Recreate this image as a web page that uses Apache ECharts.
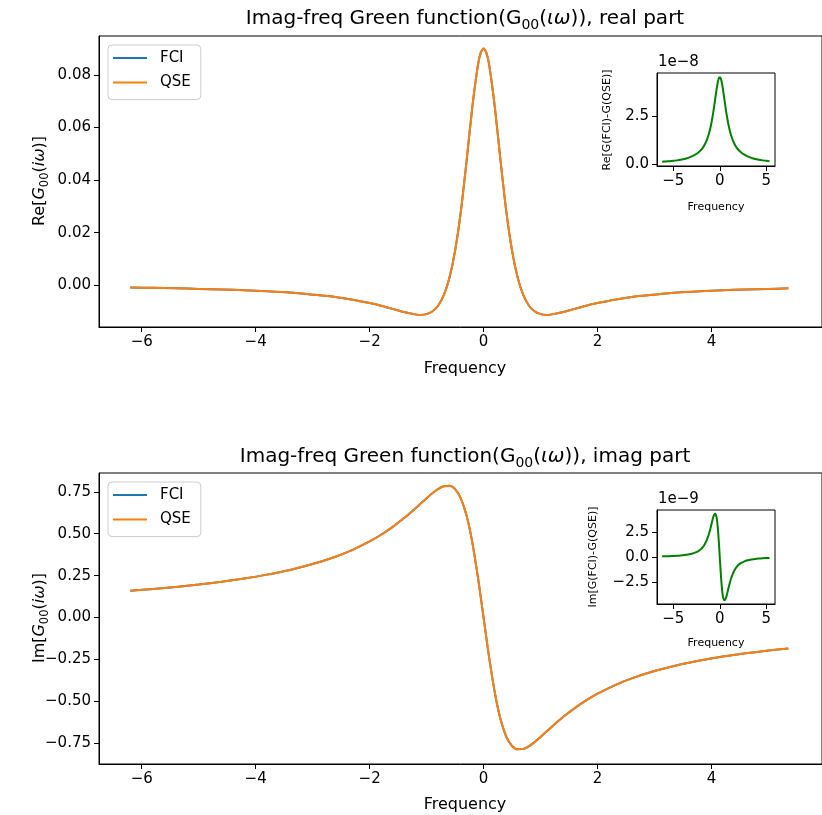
<!DOCTYPE html>
<html>
<head>
<meta charset="utf-8">
<script src="https://cdn.jsdelivr.net/npm/echarts@6.0.0/dist/echarts.min.js"></script>
<style>
  html, body { margin: 0; padding: 0; background: #fff; }
  #greenfn { width: 822px; height: 815px; }
</style>
</head>
<body>
<div id="greenfn"></div>
<script>
// Matsubara frequencies (x axis of every panel)
const freq = [-6.2, -5.8, -5.4, -5.0, -4.6, -4.2, -3.8, -3.4, -3.0, -2.6, -2.3, -2.0, -1.8, -1.6, -1.4, -1.2, -1.1, -1.0,
  -0.9, -0.8, -0.7, -0.6, -0.5, -0.4, -0.3, -0.2, -0.1, -0.05, 0, 0.05, 0.1, 0.2, 0.3, 0.4, 0.5, 0.6, 0.7, 0.8, 0.9,
  1.0, 1.1, 1.2, 1.4, 1.6, 1.8, 2.0, 2.3, 2.6, 3.0, 3.4, 3.8, 4.2, 4.6, 5.0, 5.35];

// Re[G00(iw)]
const reFCI = [-0.0009, -0.0010, -0.0012, -0.0014, -0.0016, -0.0019, -0.0023, -0.0028, -0.0036, -0.0045, -0.0055, -0.0068,
  -0.0078, -0.0090, -0.0102, -0.0111, -0.0113, -0.0110, -0.0100, -0.0079, -0.0039, 0.0027, 0.0131, 0.0279, 0.0469,
  0.0673, 0.0836, 0.0884, 0.0900, 0.0884, 0.0836, 0.0673, 0.0469, 0.0279, 0.0131, 0.0027, -0.0039, -0.0079, -0.0100,
  -0.0110, -0.0113, -0.0111, -0.0102, -0.0090, -0.0078, -0.0068, -0.0055, -0.0045, -0.0036, -0.0028, -0.0023, -0.0019,
  -0.0016, -0.0014, -0.0012];
const reQSE = reFCI.slice();

// Im[G00(iw)]
const imFCI = [0.1596, 0.1704, 0.1826, 0.1968, 0.2133, 0.2327, 0.2560, 0.2841, 0.3190, 0.3628, 0.4038, 0.4539, 0.4937,
  0.5395, 0.5918, 0.6503, 0.6811, 0.7118, 0.7409, 0.7660, 0.7830, 0.7857, 0.7655, 0.7109, 0.6096, 0.4529, 0.2432,
  0.1239, 0, -0.1239, -0.2432, -0.4529, -0.6096, -0.7109, -0.7655, -0.7857, -0.7830, -0.7660, -0.7409, -0.7118,
  -0.6811, -0.6503, -0.5918, -0.5395, -0.4937, -0.4539, -0.4038, -0.3628, -0.3190, -0.2841, -0.2560, -0.2327,
  -0.2133, -0.1968, -0.1843];
const imQSE = imFCI.slice();

// Re[G(FCI)-G(QSE)] in units of 1e-8
const reDiff = [0.13, 0.145, 0.158, 0.175, 0.20, 0.23, 0.27, 0.33, 0.41, 0.51, 0.61, 0.75, 0.87, 1.03, 1.24, 1.52, 1.70,
  1.90, 2.13, 2.39, 2.68, 3.00, 3.34, 3.68, 4.00, 4.26, 4.44, 4.48, 4.50, 4.48, 4.44, 4.26, 4.00, 3.68, 3.34, 3.00,
  2.68, 2.39, 2.13, 1.90, 1.70, 1.52, 1.24, 1.03, 0.87, 0.75, 0.61, 0.51, 0.41, 0.33, 0.27, 0.23, 0.20, 0.175, 0.16];

// Im[G(FCI)-G(QSE)] in units of 1e-9
const imDiff = [0.065, 0.075, 0.088, 0.10, 0.12, 0.15, 0.19, 0.25, 0.33, 0.46, 0.60, 0.80, 1.01, 1.30, 1.69, 2.22, 2.54,
  2.89, 3.27, 3.66, 4.02, 4.25, 4.35, 4.20, 3.73, 2.81, 1.52, 0.77, 0, -0.77, -1.52, -2.81, -3.73, -4.20, -4.35, -4.25,
  -4.02, -3.66, -3.27, -2.89, -2.54, -2.22, -1.69, -1.30, -1.01, -0.80, -0.60, -0.46, -0.33, -0.25, -0.19, -0.15,
  -0.12, -0.10, -0.09];

const freqTicks = [-6, -4, -2, 0, 2, 4];
const reTicks = [0, 0.02, 0.04, 0.06, 0.08];
const imTicks = [-0.75, -0.5, -0.25, 0, 0.25, 0.5, 0.75];
const insetFreqTicks = [-5, 0, 5];
const reDiffTicks = [0, 2.5];
const imDiffTicks = [-2.5, 0, 2.5];

const FONT = 'DejaVu Sans';

function pairs(xs, ys) {
  return xs.map((x, i) => [x, ys[i]]);
}

function fmt(v, digits) {
  const s = Math.abs(v).toFixed(digits);
  return (v < 0 ? '\u2212' : '') + s;
}

function axis(gridIndex, min, max, ticks, digits, fontSize) {
  return {
    type: 'value',
    gridIndex: gridIndex,
    min: min,
    max: max,
    axisLine: { show: true, onZero: false, lineStyle: { color: '#000', width: 1 } },
    axisTick: { show: true, length: 5, customValues: ticks, lineStyle: { color: '#000', width: 1 } },
    axisLabel: {
      customValues: ticks,
      margin: 8,
      fontSize: fontSize,
      fontFamily: FONT,
      color: '#000',
      formatter: v => fmt(v, digits)
    },
    splitLine: { show: false }
  };
}

function line(name, x, y, color, xi) {
  return {
    type: 'line',
    name: name,
    xAxisIndex: xi,
    yAxisIndex: xi,
    data: pairs(x, y),
    symbol: 'none',
    showSymbol: false,
    smooth: 0.25,
    lineStyle: { color: color, width: 2 },
    itemStyle: { color: color },
    animation: false
  };
}

function legendBox(top) {
  return {
    orient: 'vertical',
    left: 108,
    top: top,
    data: ['FCI', 'QSE'],
    icon: 'rect',
    itemWidth: 34,
    itemHeight: 2,
    itemGap: 8.6,
    padding: [5, 10, 9, 5],
    borderColor: '#cccccc',
    borderWidth: 1,
    borderRadius: 4,
    backgroundColor: 'rgba(255,255,255,0.8)',
    textStyle: { fontFamily: FONT, fontSize: 15, lineHeight: 16, color: '#000', padding: [0, 0, 0, 8] }
  };
}

const tokens = {
  a: { fontFamily: FONT, fontSize: 20, lineHeight: 27, fill: '#000' },
  i: { fontFamily: FONT, fontSize: 20, lineHeight: 27, fontStyle: 'italic', fill: '#000' },
  s: { fontFamily: FONT, fontSize: 14, verticalAlign: 'bottom', fill: '#000' }
};
const labelTokens = {
  a: { fontFamily: FONT, fontSize: 16, lineHeight: 22, fill: '#000' },
  i: { fontFamily: FONT, fontSize: 16, lineHeight: 22, fontStyle: 'italic', fill: '#000' },
  s: { fontFamily: FONT, fontSize: 11.5, verticalAlign: 'bottom', fill: '#000' }
};

function text(x, y, str, size, rot, align) {
  return {
    type: 'text',
    x: x,
    y: y,
    rotation: rot || 0,
    style: {
      text: str,
      fontFamily: FONT,
      fontSize: size,
      fill: '#000',
      align: align || 'center',
      verticalAlign: 'middle'
    }
  };
}

function richText(x, y, str, rich, rot) {
  return {
    type: 'text',
    x: x,
    y: y,
    rotation: rot || 0,
    style: { text: str, rich: rich, align: 'center', verticalAlign: 'middle' }
  };
}

var chartDom = document.getElementById('greenfn');
var myChart = echarts.init(chartDom);
var option;

const gridStyle = { show: true, borderColor: '#000', borderWidth: 1, backgroundColor: '#fff' };

option = {
  animation: false,
  backgroundColor: '#fff',
  textStyle: { fontFamily: FONT },
  grid: [
    Object.assign({ left: 99, top: 36, width: 732, height: 291 }, gridStyle),
    Object.assign({ left: 99, top: 473, width: 732, height: 291 }, gridStyle),
    Object.assign({ left: 657, top: 73, width: 118, height: 93 }, gridStyle),
    Object.assign({ left: 657, top: 510, width: 118, height: 94 }, gridStyle)
  ],
  xAxis: [
    axis(0, -6.75, 5.94, freqTicks, 0, 15),
    axis(1, -6.75, 5.94, freqTicks, 0, 15),
    axis(2, -6.75, 5.94, insetFreqTicks, 0, 15),
    axis(3, -6.75, 5.94, insetFreqTicks, 0, 15)
  ],
  yAxis: [
    axis(0, -0.0159, 0.0948, reTicks, 2, 15),
    axis(1, -0.873, 0.862, imTicks, 2, 15),
    axis(2, -0.09, 4.71, reDiffTicks, 1, 15),
    axis(3, -4.73, 4.73, imDiffTicks, 1, 15)
  ],
  legend: [legendBox(45), legendBox(482)],
  series: [
    line('FCI', freq, reFCI, '#1f77b4', 0),
    line('QSE', freq, reQSE, '#ff7f0e', 0),
    line('FCI', freq, imFCI, '#1f77b4', 1),
    line('QSE', freq, imQSE, '#ff7f0e', 1),
    line('diff', freq, reDiff, '#008000', 2),
    line('diff', freq, imDiff, '#008000', 3)
  ],
  graphic: [
    richText(465, 19, '{a|Imag-freq Green function(G}{s|00}{a|(}{i|\u03b9\u03c9}{a|)), real part}', tokens),
    richText(465, 457, '{a|Imag-freq Green function(G}{s|00}{a|(}{i|\u03b9\u03c9}{a|)), imag part}', tokens),
    richText(40, 181, '{a|Re[}{i|G}{s|00}{a|(}{i|i\u03c9}{a|)]}', labelTokens, Math.PI / 2),
    richText(40, 618, '{a|Im[}{i|G}{s|00}{a|(}{i|i\u03c9}{a|)]}', labelTokens, Math.PI / 2),
    text(465, 369, 'Frequency', 16),
    text(465, 805, 'Frequency', 16),
    text(716, 207, 'Frequency', 11),
    text(716, 643, 'Frequency', 11),
    text(607, 120, 'Re[G(FCI)-G(QSE)]', 11, Math.PI / 2),
    text(593, 557, 'Im[G(FCI)-G(QSE)]', 11, Math.PI / 2),
    text(658, 62, '1e\u22128', 15, 0, 'left'),
    text(658, 499, '1e\u22129', 15, 0, 'left')
  ]
};

option && myChart.setOption(option);
</script>
</body>
</html>
